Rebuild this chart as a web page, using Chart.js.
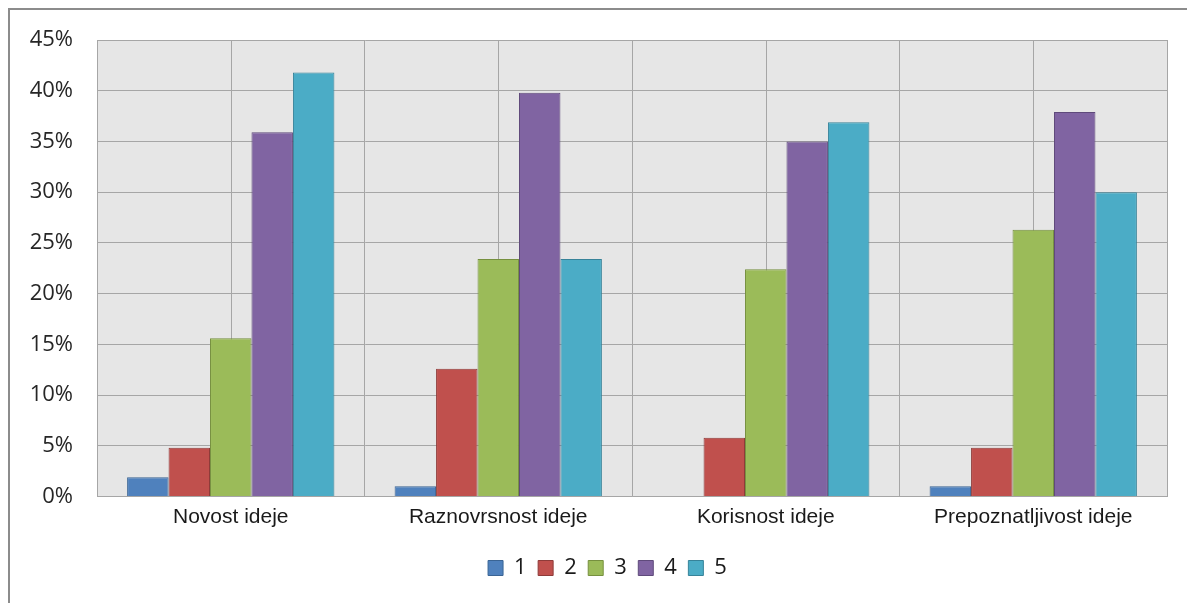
<!DOCTYPE html>
<html><head><meta charset="utf-8">
<script src="https://cdn.jsdelivr.net/npm/chart.js@4/dist/chart.umd.min.js"></script>
<style>
html,body{margin:0;padding:0;background:#fff;overflow:hidden}
#wrap{position:relative;width:1187px;height:603px}
#frame{position:absolute;left:8px;top:8px;width:1300px;height:700px;border-left:2px solid #8c8c8c;border-top:2px solid #8c8c8c;box-sizing:border-box;pointer-events:none}
canvas{position:absolute;left:0;top:0}
</style></head>
<body><div id="wrap"><canvas id="c" width="1187" height="603"></canvas><div id="frame"></div></div>
<script>
const categories = ["Novost ideje", "Raznovrsnost ideje", "Korisnost ideje", "Prepoznatljivost ideje"];
const seriesNames = ["1", "2", "3", "4", "5"];
const s1 = [1.9, 1.0, 0, 1.0];
const s2 = [4.8, 12.6, 5.8, 4.8];
const s3 = [15.6, 23.4, 22.4, 26.3];
const s4 = [35.9, 39.8, 35.0, 37.9];
const s5 = [41.8, 23.4, 36.9, 30.0];
const yTicks = [0, 5, 10, 15, 20, 25, 30, 35, 40, 45];

const fills = ["#4f81bd", "#c0504d", "#9bbb59", "#8064a2", "#4bacc6"];
const borders = ["#3a6494", "#8e3b39", "#76903f", "#5f4a7b", "#378399"];
const allSeries = [s1, s2, s3, s4, s5];

const bgPlugin = {
  id: 'bg',
  afterLayout(chart) {
    if (chart.legend) { chart.legend.left += 14; chart.legend.right += 14; }
  },
  beforeDraw(chart) {
    const {ctx, chartArea: a} = chart;
    ctx.save();
    ctx.fillStyle = '#e6e6e6';
    ctx.fillRect(a.left, a.top, a.right - a.left, a.bottom - a.top);
    ctx.restore();
  },
  beforeDatasetsDraw(chart) {
    const {ctx, chartArea: a, scales} = chart;
    ctx.save();
    ctx.strokeStyle = '#a6a6a6';
    ctx.lineWidth = 1;
    categories.forEach((c, i) => {
      const x = Math.round(scales.x.getPixelForValue(i)) + 0.5;
      ctx.beginPath(); ctx.moveTo(x, a.top); ctx.lineTo(x, a.bottom); ctx.stroke();
    });
    ctx.restore();
  }
};

new Chart(document.getElementById('c'), {
  type: 'bar',
  data: {
    labels: categories,
    datasets: allSeries.map((d, i) => ({
      label: seriesNames[i],
      data: d,
      backgroundColor: fills[i],
      borderColor: borders[i],
      borderWidth: 1,
      barPercentage: 1,
      categoryPercentage: 0.775
    }))
  },
  options: {
    responsive: false,
    animation: false,
    devicePixelRatio: 1,
    layout: {padding: {left: 20, right: 20, top: 40, bottom: 14}},
    scales: {
      x: {
        grid: {color: '#a6a6a6', lineWidth: 1, drawTicks: false, offset: true},
        border: {color: '#a6a6a6'},
        ticks: {color: '#1a1a1a', font: {family: 'Liberation Sans', size: 21}, padding: 8},
        afterFit(s) { s.height = 49; }
      },
      y: {
        min: 0, max: 45,
        afterBuildTicks(s) { s.ticks = yTicks.map(v => ({value: v})); },
        grid: {color: '#a6a6a6', lineWidth: 1, drawTicks: false},
        border: {color: '#a6a6a6'},
        ticks: {color: '#262626', font: {family: 'Open Sans', size: 22}, padding: 24, callback: v => v + '%'},
        afterFit(s) { s.width = 77; }
      }
    },
    plugins: {
      legend: {
        position: 'bottom',
        labels: {boxWidth: 15, boxHeight: 15, color: '#1a1a1a', font: {family: 'Open Sans', size: 22}, padding: 11.5}
      },
      tooltip: {enabled: false}
    }
  },
  plugins: [bgPlugin]
});
</script></body></html>
